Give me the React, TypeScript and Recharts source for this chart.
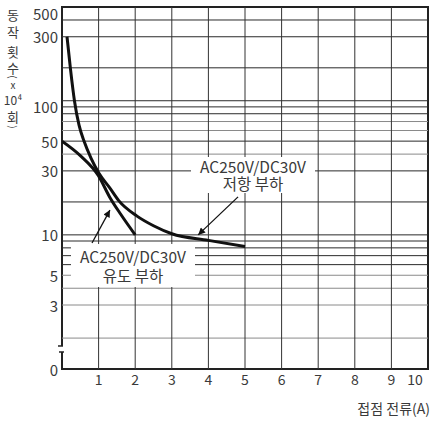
import React from 'react';
import { LineChart, Line, XAxis, YAxis, ReferenceLine, ReferenceArea } from 'recharts';

// ---- data ----
const xTicks = [1, 2, 3, 4, 5, 6, 7, 8, 9, 10];
const yTicks = [1, 1.41, 3, 5, 10, 30, 50, 100, 300, 500];
const yTickLabels: Record<string, string> = { '1': '0', '3': '3', '5': '5', '10': '10', '30': '30', '50': '50', '100': '100', '300': '300', '500': '500' };
const breakTick = 1.41;

const gridX = [1, 2, 3, 4, 5, 6, 7, 8, 9];
const gridDark = [400, 300, 176, 100, 90, 80, 50, 30, 17.6, 10, 9, 8, 7, 6];
const gridGray = [70, 60, 40, 5, 4, 3, 1.7];

const resistiveX = [0.137, 0.232, 0.341, 0.464, 0.601, 0.792, 1.01, 1.3, 1.55, 2.05, 2.5, 3, 4, 5];
const resistiveY = [300, 172, 99.6, 66, 50.1, 37.4, 28.8, 22.5, 18, 13.8, 11.7, 10.2, 9.1, 8.2];

const inductiveX = [0, 0.5, 1, 1.3, 1.6, 2];
const inductiveY = [50, 39, 27.5, 19.2, 14.3, 10];

const arrowIndX = [0.82, 1.31];
const arrowIndY = [8.7, 15.3];
const arrowResX = [4.81, 3.72];
const arrowResY = [19.2, 10];

const toPts = (xs: number[], ys: number[]) => xs.map((x, i) => ({ x, y: ys[i] }));
const resistive = toPts(resistiveX, resistiveY);
const inductive = toPts(inductiveX, inductiveY);
const arrowInd = toPts(arrowIndX, arrowIndY);
const arrowRes = toPts(arrowResX, arrowResY);

const FONT = "'Noto Sans CJK KR', 'Noto Sans', sans-serif";
const TXT = '#3a3a3a';

const YTick = (props: any) => {
  const { x, y, payload } = props;
  const v = payload.value;
  if (Math.abs(v - breakTick) < 1e-6) {
    const ax = x + 4;
    return (
      <g>
        <rect x={ax - 3} y={y - 3} width={6} height={6} fill="#fff" />
        <line x1={ax - 4} y1={y - 3} x2={ax + 1} y2={y - 3} stroke="#222" strokeWidth={1.5} />
        <line x1={ax - 3} y1={y + 3} x2={ax + 2} y2={y + 3} stroke="#222" strokeWidth={1.5} />
      </g>
    );
  }
  const label = yTickLabels[String(v)];
  if (!label) return <g />;
  const dy = v === 500 ? 6 : v === 100 ? 6 : 0;
  return (
    <text x={x} y={y + dy} textAnchor="end" dominantBaseline="central" fontSize={15} fill={TXT} fontFamily={FONT}>
      {label}
    </text>
  );
};

const XTick = (props: any) => {
  const { x, y, payload } = props;
  const dx = payload.value === 10 ? -7 : 0;
  return (
    <text x={x + dx} y={y + 2} textAnchor="middle" dominantBaseline="central" fontSize={14} fill={TXT} fontFamily={FONT}>
      {payload.value}
    </text>
  );
};

const ytitle: { t: string; y: number; rot?: boolean; fs?: number }[] = [
  { t: '동', y: 14 },
  { t: '작', y: 31 },
  { t: '횟', y: 51 },
  { t: '수', y: 67 },
  { t: '(', y: 77, rot: true, fs: 10 },
  { t: 'x', y: 85, fs: 10 },
  { t: '10⁴', y: 100, fs: 12 },
  { t: '회', y: 116 },
  { t: ')', y: 127, rot: true, fs: 10 },
];

export default function App() {
  return (
    <div style={{ position: 'absolute', left: 0, top: 0, width: 430, height: 421, background: '#fff', fontFamily: FONT }}>
      <svg width={0} height={0} style={{ position: 'absolute' }}>
        <defs>
          <marker id="arrowhead" viewBox="0 0 10 10" refX="10" refY="5" markerWidth="9" markerHeight="7" markerUnits="userSpaceOnUse" orient="auto">
            <path d="M0,0 L10,5 L0,10 z" fill="#111" />
          </marker>
        </defs>
      </svg>
      <LineChart width={430} height={421} margin={{ top: 7, right: 2, bottom: 22, left: 0 }}>
        <XAxis type="number" dataKey="x" domain={[0, 10]} ticks={xTicks} axisLine={false} tickLine={false} tick={<XTick />} height={30} allowDataOverflow />
        <YAxis type="number" dataKey="y" scale="log" domain={[1, 500]} ticks={yTicks} axisLine={false} tickLine={false} tickSize={4} tickMargin={0} tick={<YTick />} width={62} allowDataOverflow interval={0} />
        {gridGray.map((v) => (
          <ReferenceLine key={'g' + v} y={v} stroke="#8a8a8a" strokeWidth={1} />
        ))}
        {gridDark.map((v) => (
          <ReferenceLine key={'d' + v} y={v} stroke="#2a2a2a" strokeWidth={1} />
        ))}
        {gridX.map((v) => (
          <ReferenceLine key={'x' + v} x={v} stroke="#333" strokeWidth={1} />
        ))}
        <ReferenceArea x1={0} x2={10} y1={1} y2={500} fill="none" fillOpacity={0} stroke="#222" strokeWidth={2} />
        <Line data={resistive} dataKey="y" type="monotone" stroke="#111" strokeWidth={3} dot={false} activeDot={false} isAnimationActive={false} />
        <Line data={inductive} dataKey="y" type="monotone" stroke="#111" strokeWidth={3} dot={false} activeDot={false} isAnimationActive={false} />
        <Line data={arrowInd} dataKey="y" type="linear" stroke="#111" strokeWidth={1.3} dot={false} activeDot={false} isAnimationActive={false} markerEnd="url(#arrowhead)" />
        <Line data={arrowRes} dataKey="y" type="linear" stroke="#111" strokeWidth={1.3} dot={false} activeDot={false} isAnimationActive={false} markerEnd="url(#arrowhead)" />
      </LineChart>

      {/* label boxes */}
      <div style={{ position: 'absolute', left: 71, top: 244, width: 124, height: 43, background: '#fff', color: TXT, fontSize: 15.5, lineHeight: '19px', textAlign: 'center' }}>
        <div style={{ marginTop: 3 }}>AC250V/DC30V</div>
        <div>유도 부하</div>
      </div>
      <div style={{ position: 'absolute', left: 191, top: 157, width: 124, height: 36, background: '#fff', color: TXT, fontSize: 15.5, lineHeight: '17px', textAlign: 'center' }}>
        <div style={{ marginTop: 1 }}>AC250V/DC30V</div>
        <div>저항 부하</div>
      </div>

      {/* y axis title */}
      {ytitle.map((c, i) => {
        const fs = c.fs || 13;
        return (
          <div key={i} style={{ position: 'absolute', left: 0, width: 26, top: c.y - fs / 2, height: fs, lineHeight: fs + 'px', textAlign: 'center', fontSize: fs, color: TXT, transform: c.rot ? 'rotate(90deg)' : undefined }}>
            {c.t}
          </div>
        );
      })}

      {/* x axis title */}
      <div style={{ position: 'absolute', right: 0, top: 398, fontSize: 14, color: TXT, lineHeight: '20px' }}>접점 전류(A)</div>
    </div>
  );
}
